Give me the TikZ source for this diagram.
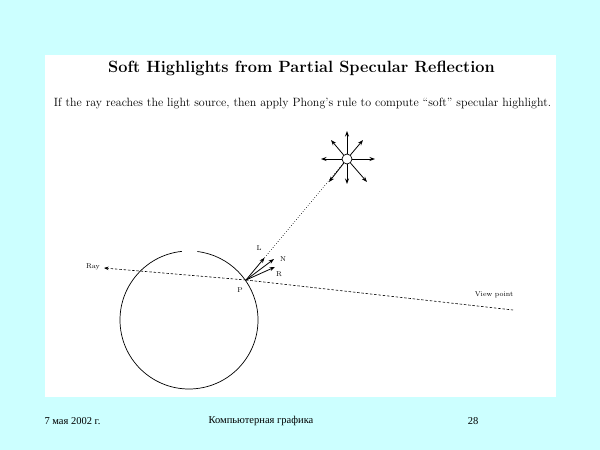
\documentclass[tikz,border=0pt]{standalone}
\usepackage{fontspec}
\newfontfamily\footfont{Liberation Serif}
\usetikzlibrary{arrows.meta,calc}
\definecolor{bgcyan}{RGB}{204,255,255}
\begin{document}
\begin{tikzpicture}[x=1pt,y=-1pt,
  line/.style={line width=0.7pt},
  ray/.style={line width=0.6pt,dash pattern=on 2.5pt off 1.8pt},
  vec/.style={line width=0.8pt,-{Stealth[length=5.5pt,width=4pt]}},
  lbl/.style={font=\fontsize{7}{8}\selectfont,inner sep=0pt},
  foot/.style={font=\footfont\fontsize{10.5}{12}\selectfont,inner sep=0pt}]
\fill[bgcyan] (0,0) rectangle (600,450);
\useasboundingbox (0,0) rectangle (600,450);
\fill[white] (45,55) rectangle (556,397);
% title and subtitle
\node[font=\fontsize{16.3}{18}\selectfont\bfseries] (title) at (301.5,68) {Soft Highlights from Partial Specular Reflection};
\node[font=\fontsize{12}{14}\selectfont] (sub) at (302.5,104) {If the ray reaches the light source, then apply Phong's rule to compute ``soft'' specular highlight.};
% sphere
\coordinate (C) at (189,320);
\draw[line] (C) ++(96:69pt) arc[start angle=96,end angle=443,radius=69pt];
% point and vectors
\coordinate (P) at (246,280);
\coordinate (Lt) at (264.6,257.7);
\coordinate (Nt) at (274,259);
\coordinate (Rt) at (275,267);
\draw[vec] (P) -- (Lt);
\draw[vec] (P) -- (Nt);
\draw[vec] (P) -- (Rt);
\node[lbl] (Ll) at (259,248) {L};
\node[lbl] (Nl) at (283,259) {N};
\node[lbl] (Rl) at (279,274) {R};
\node[lbl] (Pl) at (240,290) {P};
% light
\node[circle,draw,line width=0.7pt,minimum size=10pt,inner sep=0pt] (light) at (347,159) {};
\draw[line width=0.6pt,dotted] (Lt) -- (light);
\foreach \n/\dx/\dy in {a/0/-28,b/0/25,c/-26/0,d/28/0,e/-16/-19,f/16/-19,g/-18/23,h/20/23}{
  \coordinate (t\n) at ($(light.center)+(\dx,\dy)$);
}
\foreach \n in {a,b,c,d,e,f,g,h}{
  \draw[vec] (light) -- (t\n);
}
% ray and view lines
\coordinate (Rayt) at (104,268);
\coordinate (View) at (513,310);
\draw[ray,-{Stealth[length=4.5pt,width=3.5pt]}] (P) -- (Rayt);
\draw[ray] (P) -- (View);
\node[lbl,anchor=east] (raylbl) at (100,267) {Ray};
\node[lbl] (viewlbl) at (494,295) {View point};
% footer
\node[foot] (date) at (72.5,421) {7 мая 2002 г.};
\node[foot] (course) at (261,421) {Компьютерная графика};
\node[foot] (page) at (473,421) {28};
\end{tikzpicture}
\end{document}
